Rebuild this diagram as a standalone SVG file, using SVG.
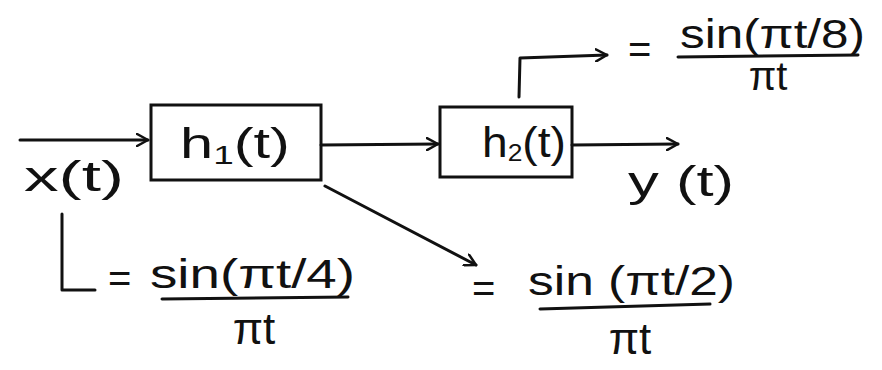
<svg xmlns="http://www.w3.org/2000/svg" width="882" height="370" viewBox="0 0 882 370">
<style>
.ln{fill:none;stroke:#111;stroke-width:3;stroke-linecap:round;stroke-linejoin:round}
.bx{fill:none;stroke:#111;stroke-width:3}
.t{font-family:"Liberation Sans","DejaVu Sans",sans-serif;fill:#111}
.big{font-size:42px}
.eq{font-size:40px}
.pt{font-size:44px}
</style>
<defs>
<marker id="ah" viewBox="0 0 14 14" refX="12" refY="7" markerWidth="14" markerHeight="14" markerUnits="userSpaceOnUse" orient="auto">
<path d="M1,1 L12,7 L1,13" fill="none" stroke="#111" stroke-width="2.5" stroke-linecap="round" stroke-linejoin="round"/>
</marker>
</defs>
<rect width="882" height="370" fill="#fff"/>
<g id="h1">
<rect class="bx" x="151" y="105" width="170" height="75"/>
<text class="t big" x="180" y="158" textLength="110" lengthAdjust="spacingAndGlyphs">h<tspan font-size="26" dy="6">1</tspan><tspan dy="-6">(t)</tspan></text>
</g>
<g id="h2">
<rect class="bx" x="440" y="107" width="132" height="70"/>
<text class="t big" x="482" y="157" font-size="36" textLength="84" lengthAdjust="spacingAndGlyphs">h<tspan font-size="24" dy="4">2</tspan><tspan dy="-4">(t)</tspan></text>
</g>
<g id="labels">
<text class="t big" x="24" y="191" textLength="100" lengthAdjust="spacingAndGlyphs">x(t)</text>
<text class="t big" x="628" y="196" textLength="106" lengthAdjust="spacingAndGlyphs">y (t)</text>
</g>
<g id="out8">
<text class="t eq" x="628" y="63">=</text>
<text class="t eq" x="680" y="48" textLength="185" lengthAdjust="spacingAndGlyphs">sin(πt/8)</text>
<line class="ln" x1="678" y1="57" x2="858" y2="55"/>
<text class="t eq" x="768" y="90" text-anchor="middle">πt</text>
</g>
<g id="out4">
<text class="t eq" x="108" y="292">=</text>
<text class="t eq" x="150" y="288" textLength="205" lengthAdjust="spacingAndGlyphs">sin(πt/4)</text>
<line class="ln" x1="162" y1="299" x2="348" y2="297"/>
<text class="t pt" x="254" y="344" text-anchor="middle">πt</text>
</g>
<g id="out2">
<text class="t eq" x="472" y="302">=</text>
<text class="t eq" x="528" y="295" textLength="207" lengthAdjust="spacingAndGlyphs">sin (πt/2)</text>
<line class="ln" x1="540" y1="309" x2="710" y2="304"/>
<text class="t pt" x="630" y="354" text-anchor="middle">πt</text>
</g>
<g id="connectors">
<line class="ln" x1="20" y1="140" x2="148" y2="140" marker-end="url(#ah)"/>
<line class="ln" x1="321" y1="145" x2="438" y2="144" marker-end="url(#ah)"/>
<line class="ln" x1="572" y1="145" x2="678" y2="144" marker-end="url(#ah)"/>
<polyline class="ln" points="519,97 520,58 607,55" marker-end="url(#ah)"/>
<line class="ln" x1="325" y1="186" x2="476" y2="265" marker-end="url(#ah)"/>
<polyline class="ln" points="62,214 62,290 95,290"/>
</g>
</svg>
